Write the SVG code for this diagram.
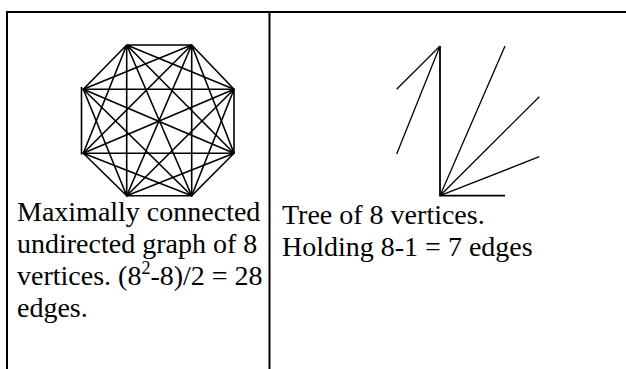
<svg xmlns="http://www.w3.org/2000/svg" width="626" height="369" viewBox="0 0 626 369">
<style>
.border{stroke:#000;stroke-width:2;fill:none}
.e{stroke:#000;stroke-width:1.6;fill:none;stroke-linecap:round}
.t{stroke:#000;stroke-width:1.3;fill:none}
.tv{stroke:#000;stroke-width:1.8;fill:none}
.txt{font-family:"Liberation Serif","Times New Roman",serif;font-size:28px;fill:#000}
</style>
<rect width="626" height="369" fill="#fff"/>
<g id="table">
<line class="border" x1="6" y1="12" x2="626" y2="12"/>
<line class="border" x1="7" y1="11" x2="7" y2="369"/>
<line class="border" x1="269.5" y1="11" x2="269.5" y2="369"/>
</g>
<g id="complete-graph" class="e">
<path d="M126.7,45 L191.7,45 M126.7,45 L234,89.3 M126.7,45 L234,153.3 M126.7,45 L191.7,195.7 M126.7,45 L126.7,195.7 M126.7,45 L83.3,153.3 M126.7,45 L83.3,89.3"/>
<path d="M191.7,45 L234,89.3 M191.7,45 L234,153.3 M191.7,45 L191.7,195.7 M191.7,45 L126.7,195.7 M191.7,45 L83.3,153.3 M191.7,45 L83.3,89.3"/>
<path d="M234,89.3 L234,153.3 M234,89.3 L191.7,195.7 M234,89.3 L126.7,195.7 M234,89.3 L83.3,153.3 M234,89.3 L83.3,89.3"/>
<path d="M234,153.3 L191.7,195.7 M234,153.3 L126.7,195.7 M234,153.3 L83.3,153.3 M234,153.3 L83.3,89.3"/>
<path d="M191.7,195.7 L126.7,195.7 M191.7,195.7 L83.3,153.3 M191.7,195.7 L83.3,89.3"/>
<path d="M126.7,195.7 L83.3,153.3 M126.7,195.7 L83.3,89.3"/>
<path d="M81.5,87.5 L81.5,154"/>
</g>
<g id="tree">
<path class="t" d="M440,46 L396.7,89.3 M440,46 L396.7,154 M440,195.7 L505,46 M440,195.7 L539.3,96.7 M440,195.7 L539.3,156.7"/>
<path class="tv" d="M440,46 L440,195.7 L505,195.7"/>
</g>
<g id="label-left" class="txt">
<text x="17" y="221">Maximally connected</text>
<text x="17" y="253">undirected graph of 8</text>
<text x="17" y="285">vertices. (8<tspan font-size="18" dy="-11">2</tspan><tspan dy="11">-8)/2 = 28</tspan></text>
<text x="17" y="317">edges.</text>
</g>
<g id="label-right" class="txt">
<text x="282" y="224">Tree of 8 vertices.</text>
<text x="282" y="256">Holding 8-1 = 7 edges</text>
</g>
</svg>
